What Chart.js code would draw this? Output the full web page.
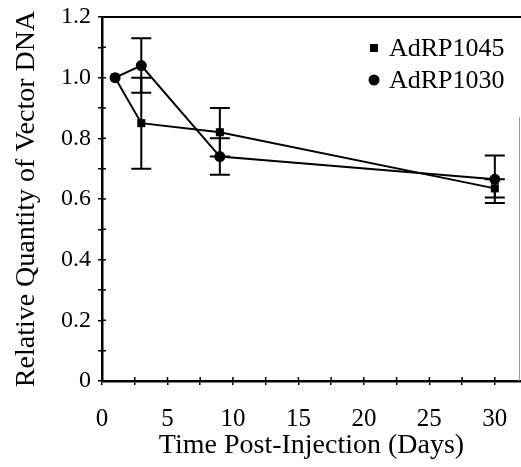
<!DOCTYPE html>
<html>
<head>
<meta charset="utf-8">
<script src="https://cdn.jsdelivr.net/npm/chart.js@4.4.1/dist/chart.umd.min.js"></script>
<style>
  html, body { margin: 0; padding: 0; background: #fff; }
  #wrap { width: 521px; height: 467px; }
</style>
</head>
<body>
<div id="wrap"><canvas id="myChart" width="521" height="467"></canvas></div>
<script>
// dias e valores
const days = [1, 3, 9, 30];
const adrp1045 = [1.0, 0.85, 0.82, 0.635];
const adrp1045Err = [0, 0.15, 0.08, 0.03];
const adrp1030 = [1.0, 1.04, 0.74, 0.665];
const adrp1030Err = [0, 0.09, 0.06, 0.078];

// ticks dos eixos
const xTicks = [0, 2.5, 5, 7.5, 10, 12.5, 15, 17.5, 20, 22.5, 25, 27.5, 30];
const xLabels = ["0", "", "5", "", "10", "", "15", "", "20", "", "25", "", "30"];
const yTicks = [0, 0.1, 0.2, 0.3, 0.4, 0.5, 0.6, 0.7, 0.8, 0.9, 1.0, 1.1, 1.2];
const yLabels = ["0", "", "0.2", "", "0.4", "", "0.6", "", "0.8", "", "1.0", "", "1.2"];

const serif = "'Liberation Serif', 'Times New Roman', 'DejaVu Serif', serif";

const errors = [adrp1045Err, adrp1030Err];

// barras de erro, ticks internos, borda e legenda
const extras = {
  id: "extras",
  beforeDatasetsDraw(chart) {
    const ctx = chart.ctx;
    const xs = chart.scales.x, ys = chart.scales.y;
    ctx.save();
    ctx.strokeStyle = "#000";
    ctx.lineWidth = 2;
    chart.data.datasets.forEach((ds, i) => {
      ds.data.forEach((p, j) => {
        const e = errors[i][j];
        if (!e) return;
        const x = xs.getPixelForValue(p.x);
        const y1 = ys.getPixelForValue(p.y + e);
        const y2 = ys.getPixelForValue(p.y - e);
        ctx.beginPath();
        ctx.moveTo(x, y1); ctx.lineTo(x, y2);
        ctx.moveTo(x - 10, y1); ctx.lineTo(x + 10, y1);
        ctx.moveTo(x - 10, y2); ctx.lineTo(x + 10, y2);
        ctx.stroke();
      });
    });
    ctx.restore();
  },
  afterDraw(chart) {
    const ctx = chart.ctx;
    const a = chart.chartArea;
    const xs = chart.scales.x, ys = chart.scales.y;
    ctx.save();
    ctx.strokeStyle = "#000";
    ctx.lineWidth = 1.5;
    ctx.beginPath();
    yTicks.forEach(v => {
      const y = ys.getPixelForValue(v);
      ctx.moveTo(a.left, y); ctx.lineTo(a.left + 4, y);
    });
    xTicks.forEach(v => {
      const x = xs.getPixelForValue(v);
      ctx.moveTo(x, a.bottom); ctx.lineTo(x, a.bottom - 4);
    });
    ctx.stroke();
    // borda de cima e direita
    ctx.lineWidth = 2;
    ctx.beginPath();
    ctx.moveTo(a.left, a.top); ctx.lineTo(a.right, a.top);
    ctx.stroke();
    ctx.strokeStyle = "#999";
    ctx.lineWidth = 1;
    ctx.beginPath();
    ctx.moveTo(a.right - 1.5, a.top + 100); ctx.lineTo(a.right - 1.5, a.bottom);
    ctx.stroke();

    // legenda
    ctx.fillStyle = "#000";
    ctx.font = "26px " + serif;
    ctx.textBaseline = "alphabetic";
    ctx.textAlign = "left";
    const mx = a.right - 147, tx = a.right - 132;
    ctx.fillRect(mx - 4, a.top + 27, 8, 8);
    ctx.fillText(chart.data.datasets[0].label, tx, a.top + 39);
    ctx.beginPath();
    ctx.arc(mx, a.top + 63, 5.5, 0, Math.PI * 2);
    ctx.fill();
    ctx.fillText(chart.data.datasets[1].label, tx, a.top + 71);
    ctx.restore();
  }
};

const graph = {
  datasets: [
    {
      label: "AdRP1045",
      data: days.map((d, i) => ({ x: d, y: adrp1045[i] })),
      borderColor: "#000",
      backgroundColor: "#000",
      borderWidth: 2,
      pointStyle: "rect",
      pointRadius: 5.7,
      pointBorderWidth: 0,
    },
    {
      label: "AdRP1030",
      data: days.map((d, i) => ({ x: d, y: adrp1030[i] })),
      borderColor: "#000",
      backgroundColor: "#000",
      borderWidth: 2,
      pointStyle: "circle",
      pointRadius: 5.5,
      pointBorderWidth: 0,
    },
  ],
};

const config = {
  type: "line",
  data: graph,
  plugins: [extras],
  options: {
    responsive: false,
    animation: false,
    layout: { autoPadding: false, padding: { top: 17, right: 0, bottom: 0, left: 0 } },
    plugins: { legend: { display: false }, tooltip: { enabled: false } },
    scales: {
      x: {
        type: "linear",
        min: 0,
        max: 32,
        afterBuildTicks: (s) => { s.ticks = xTicks.map(v => ({ value: v })); },
        afterFit: (s) => { s.height = 86; s.paddingLeft = 0; s.paddingRight = 0; },
        ticks: {
          autoSkip: false,
          maxRotation: 0,
          color: "#000",
          padding: 19,
          font: { family: serif, size: 25 },
          callback: (v) => { const i = xTicks.indexOf(v); return i >= 0 ? xLabels[i] : ""; },
        },
        grid: { drawOnChartArea: false, color: "#000", lineWidth: 1.5, tickLength: 4 },
        border: { color: "#000", width: 2.5 },
        title: {
          display: true,
          text: "Time Post-Injection (Days)",
          color: "#000",
          font: { family: serif, size: 28 },
          padding: { top: 0, bottom: 5 },
        },
      },
      y: {
        type: "linear",
        min: 0,
        max: 1.2,
        afterBuildTicks: (s) => { s.ticks = yTicks.map(v => ({ value: v })); },
        afterFit: (s) => { s.width = 102; s.paddingTop = 0; s.paddingBottom = 0; },
        ticks: {
          autoSkip: false,
          color: "#000",
          padding: 7,
          font: { family: serif, size: 24 },
          callback: (v) => { const i = yTicks.findIndex(t => Math.abs(t - v) < 1e-6); return i >= 0 ? yLabels[i] : ""; },
        },
        grid: { drawOnChartArea: false, color: "#000", lineWidth: 1.5, tickLength: 4 },
        border: { color: "#000", width: 2.5 },
        title: {
          display: true,
          text: "Relative Quantity of Vector DNA",
          color: "#000",
          font: { family: serif, size: 28 },
          padding: { top: 10, bottom: 0 },
        },
      },
    },
  },
};

// espera a fonte serif carregar antes de desenhar
Promise.all([
  document.fonts.load("25px 'Liberation Serif'"),
  document.fonts.load("28px 'Liberation Serif'"),
]).catch(() => {}).then(() => {
  const myChart = new Chart(document.getElementById("myChart"), config);
});
</script>
</body>
</html>
